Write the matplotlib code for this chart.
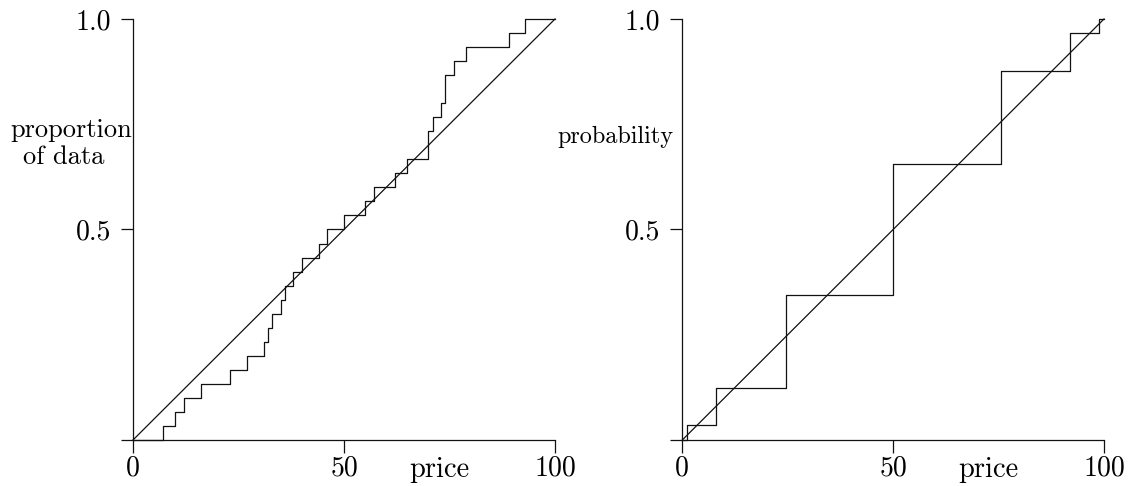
import numpy as np
import matplotlib
matplotlib.use("Agg")
import matplotlib.pyplot as plt

# ---- data ----
sample_prices = [7, 10, 12, 16, 23, 27, 31, 32, 33, 35, 36, 38, 40, 44, 46,
                 50, 55, 57, 62, 65, 70, 70, 71, 73, 74, 74, 76, 79, 89, 93]
dist_values = [1.2, 8, 24.5, 50, 75.5, 92, 98.7]
dist_probs = [0.035, 0.089, 0.221, 0.311, 0.221, 0.090, 0.033]
x_ticks = [0, 50, 100]
x_ticklabels = ["0", "50", "100"]
y_ticks = [0, 0.5, 1.0]
y_ticklabels = ["", "0.5", "1.0"]

plt.rcParams['font.family'] = 'serif'
plt.rcParams['font.serif'] = ['cmr10', 'DejaVu Serif']
plt.rcParams['mathtext.fontset'] = 'cm'
plt.rcParams['axes.unicode_minus'] = False

fig = plt.figure(figsize=(11.31, 4.86), dpi=100)
ax1 = fig.add_axes([133/1131, 1-440/486, (555-133)/1131, (440-19)/486])
ax2 = fig.add_axes([682.3/1131, 1-440/486, (1104-682.3)/1131, (440-19)/486])

lw = 0.9
col = '#111111'

def style(ax):
    ax.set_xlim(0, 100)
    ax.set_ylim(0, 1)
    for s in ['top', 'right']:
        ax.spines[s].set_visible(False)
    for s in ['left', 'bottom']:
        ax.spines[s].set_linewidth(lw)
        ax.spines[s].set_color(col)
    ax.set_xticks(x_ticks)
    ax.set_xticklabels(x_ticklabels)
    ax.set_yticks(y_ticks)
    ax.set_yticklabels(y_ticklabels)
    ax.tick_params(direction='out', length=9, width=lw, color=col,
                   labelsize=20)
    ax.tick_params(axis='x', pad=2)
    ax.tick_params(axis='y', pad=7)
    ax.plot([0, 100], [0, 1], color=col, lw=lw, clip_on=False)
    ax.annotate('price', xy=(72.5, 0), xycoords=('data', 'axes fraction'),
                xytext=(0, -17), textcoords='offset pixels',
                ha='center', va='top', fontsize=20.5)

# left: empirical CDF
n = len(sample_prices)
ux = np.unique(sample_prices)
cum = np.searchsorted(np.sort(sample_prices), ux, side='right') / n
xs = np.concatenate([[0], ux, [100]])
ys = np.concatenate([[0], cum, [1.0]])
style(ax1)
ax1.step(xs, ys, where='post', color=col, lw=lw, clip_on=False)

# right: distribution CDF
cp = np.cumsum(dist_probs)
xs2 = np.concatenate([[0], dist_values, [100]])
ys2 = np.concatenate([[0], cp, [cp[-1]]])
style(ax2)
ax2.step(xs2, ys2, where='post', color=col, lw=lw, clip_on=False)

fig.text(10/1131, 1-130/486, 'proportion', ha='left', va='center', fontsize=19)
fig.text(23/1131, 1-157/486, 'of data', ha='left', va='center', fontsize=19)
fig.text(557/1131, 1-137/486, 'probability', ha='left', va='center', fontsize=17.5)

fig.savefig('out.png', dpi=100)
